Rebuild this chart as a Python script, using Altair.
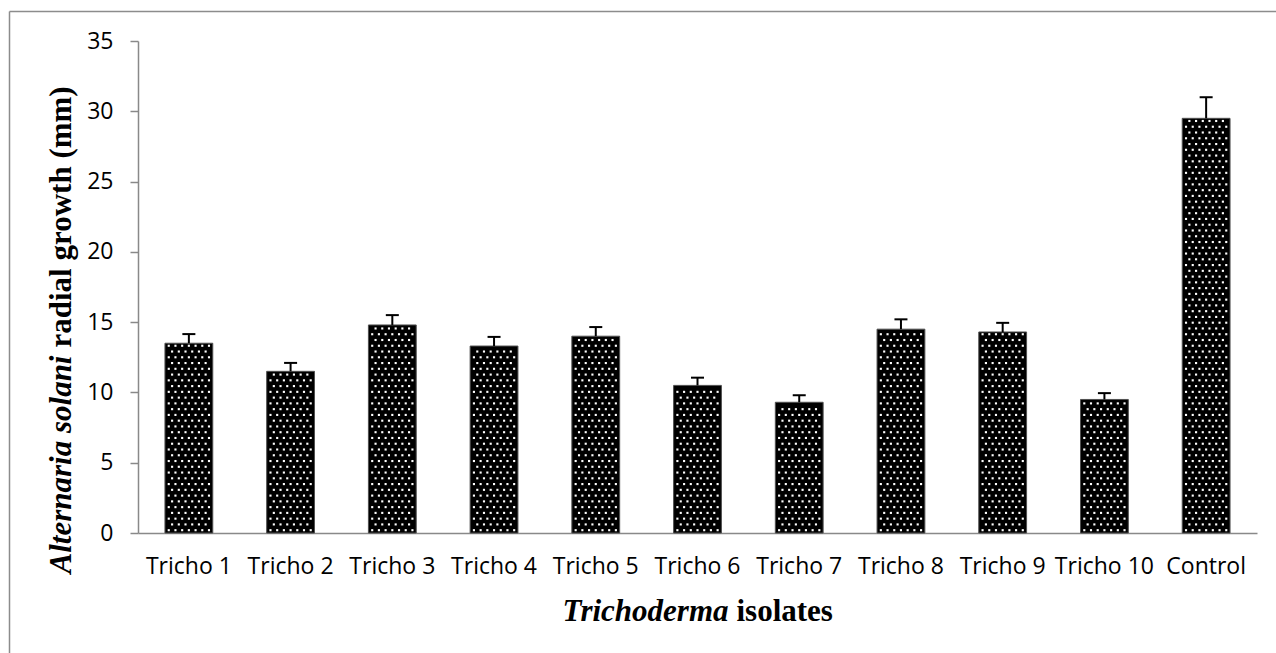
import altair as alt
import pandas as pd

# Radial growth of Alternaria solani against each Trichoderma isolate
isolates = ["Tricho 1", "Tricho 2", "Tricho 3", "Tricho 4", "Tricho 5", "Tricho 6",
            "Tricho 7", "Tricho 8", "Tricho 9", "Tricho 10", "Control"]
growth_mm = [13.5, 11.5, 14.8, 13.3, 14.0, 10.5, 9.3, 14.5, 14.3, 9.5, 29.5]
error_mm = [0.65, 0.6, 0.7, 0.65, 0.65, 0.55, 0.5, 0.7, 0.65, 0.45, 1.5]
y_ticks = [0, 5, 10, 15, 20, 25, 30, 35]

df = pd.DataFrame({
    "isolate": isolates,
    "growth": growth_mm,
    "err": error_mm,
    "pos": list(range(len(isolates))),
})

AXIS_GREY = "#898989"
LABEL_FONT = "Open Sans"
TITLE_FONT = "Liberation Serif"

x_axis = alt.Axis(title=None, labelAngle=0, ticks=False, labelFont=LABEL_FONT,
                  labelFontSize=23, labelPadding=22, labelColor="black",
                  domainColor=AXIS_GREY, domainWidth=1.5, grid=False)
y_axis = alt.Axis(title=None, values=y_ticks, grid=False, tickSize=8, tickColor=AXIS_GREY,
                  tickWidth=1.5, domainColor=AXIS_GREY, domainWidth=1.5,
                  labelFont=LABEL_FONT, labelFontSize=23, labelPadding=17, labelColor="black")
x_scale = alt.Scale(paddingInner=0.53, paddingOuter=0.265)
y_scale = alt.Scale(domain=[0, 35], nice=False, zero=True)


def x_enc():
    return alt.X("isolate:N", sort=isolates, scale=x_scale, axis=x_axis)


def y_enc(field):
    return alt.Y(field, scale=y_scale, axis=y_axis)


base = alt.Chart(df)

bars = base.mark_bar(color="black", stroke="#505050", strokeWidth=1).encode(
    x=x_enc(), y=y_enc("growth:Q")
)

err_rule = base.transform_calculate(hi="datum.growth + datum.err").mark_rule(
    color="black", strokeWidth=2
).encode(x=x_enc(), y=y_enc("growth:Q"), y2="hi:Q")

err_cap = base.transform_calculate(hi="datum.growth + datum.err").mark_tick(
    color="black", thickness=2, size=13, opacity=1
).encode(x=x_enc(), y=y_enc("hi:Q"))

bar_group = alt.layer(bars, err_rule, err_cap)

# white dot texture inside each bar (staggered rows)
dots = (
    base.transform_calculate(rows="sequence(0, floor((datum.growth - 0.3) / 0.41) + 1)")
    .transform_flatten(["rows"], as_=["r"])
    .transform_calculate(cols="sequence(-3, datum.r % 2 == 0 ? 4 : 3)")
    .transform_flatten(["cols"], as_=["c"])
    .transform_calculate(
        xq="datum.pos + 0.5 + (datum.c + (datum.r % 2) * 0.5) * 0.0659",
        yq="0.2 + datum.r * 0.41",
    )
    .mark_square(color="white", size=4.5, opacity=1)
    .encode(
        x=alt.X("xq:Q", scale=alt.Scale(domain=[0, len(isolates)], nice=False, zero=False), axis=None),
        y=y_enc("yq:Q"),
    )
)

one = alt.Data(values=[{"k": 0}])

x_title_a = alt.Chart(one).mark_text(
    text="Trichoderma", font=TITLE_FONT, fontSize=31, fontStyle="italic", fontWeight="bold",
    align="right", baseline="alphabetic", color="black"
).encode(x=alt.value(590.5), y=alt.value(580))
x_title_b = alt.Chart(one).mark_text(
    text="isolates", font=TITLE_FONT, fontSize=31, fontWeight="bold",
    align="left", baseline="alphabetic", color="black"
).encode(x=alt.value(598.5), y=alt.value(580))

y_title_a = alt.Chart(one).mark_text(
    text="Alternaria solani", font=TITLE_FONT, fontSize=31, fontStyle="italic", fontWeight="bold",
    align="right", baseline="alphabetic", angle=270, color="black"
).encode(x=alt.value(-67.5), y=alt.value(314.5))
y_title_b = alt.Chart(one).mark_text(
    text="radial growth (mm)", font=TITLE_FONT, fontSize=31, fontWeight="bold",
    align="left", baseline="alphabetic", angle=270, color="black"
).encode(x=alt.value(-67.5), y=alt.value(306.5))

# outer frame
frame_left = alt.Chart(one).mark_rule(color="#8c8c8c", strokeWidth=1.5).encode(
    x=alt.value(-128.5), y=alt.value(-29.5), y2=alt.value(700)
)
frame_top = alt.Chart(one).mark_rule(color="#8c8c8c", strokeWidth=1.5).encode(
    x=alt.value(-128.5), x2=alt.value(1300), y=alt.value(-29.5)
)

chart = (
    alt.layer(frame_left, frame_top, bar_group, dots,
              x_title_a, x_title_b, y_title_a, y_title_b)
    .resolve_scale(x="independent")
    .properties(
        width=1119, height=492,
        padding={"left": 138, "top": 41, "right": 19, "bottom": 120},
        autosize=alt.AutoSizeParams(type="none"),
        background="white",
    )
    .configure_view(stroke=None)
)

chart.save("out.html", embed_options={"renderer": "svg", "actions": False})
